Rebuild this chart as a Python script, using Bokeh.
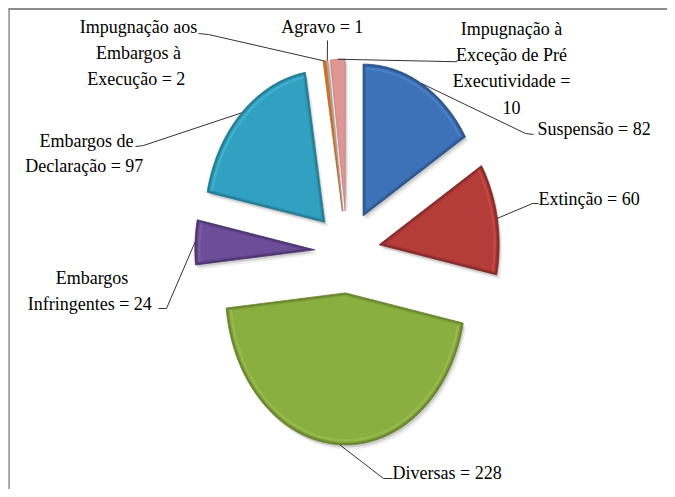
import numpy as np
from bokeh.plotting import figure
from bokeh.models import Range1d, Label
from bokeh.embed import file_html
from bokeh.resources import INLINE

# ---------------- data ----------------
categories = ["Suspensão", "Extinção", "Diversas", "Embargos Infringentes",
              "Embargos de Declaração", "Impugnação aos Embargos à Execução",
              "Agravo", "Impugnação à Exceção de Pré Executividade"]
values = [82, 60, 228, 24, 97, 2, 1, 10]
label_templates = [
    ["Suspensão = {}"],
    ["Extinção =  {}"],
    ["Diversas =  {}"],
    ["Embargos", "Infringentes =  {}"],
    ["Embargos de", "Declaração =  {}"],
    ["Impugnação aos", "Embargos à", "Execução =  {}"],
    ["Agravo =  {}"],
    ["Impugnação à", "Exceção de Pré", "Executividade =", "{}"],
]
main_colors = ["#3D72B8", "#B43C39", "#8BAE40", "#6C4E98", "#32A1C1", "#D9731E", "#C9B2A8", "#DE9593"]
dark_colors = ["#2B5389", "#842A28", "#67842C", "#4C3470", "#237A93", "#A9540F", "#9C857C", "#B56D6B"]
light_colors = ["#5B8FD4", "#D9544F", "#A6C65E", "#8A6BB6", "#55C0DE", "#F0913C", "#E0D0C8", "#F0B4B2"]

# ---------------- layout (pixels, y downwards) ----------------
W, H = 667, 489
cx, cy = 346.7, 251.4
rx, ry = 120.0, 152.0
explode = 0.27

# label anchor: (x, first-line y, line spacing, align)
label_pos = [
    (537, 128, 0, "left"),
    (538, 198, 0, "left"),
    (392, 472, 0, "left"),
    (91.5, 277, 26, "center"),
    (86, 140, 25, "center"),
    (138, 26.7, 25.8, "center"),
    (324, 26, 0, "center"),
    (511, 28, 26.3, "center"),
]
# leader elbow and end points
leader_pts = [
    ((525, 133), (533, 134)),
    ((532, 203), (538, 203)),
    ((383, 478), (392, 478)),
    ((166, 308), (158, 308)),
    ((143, 145), (135, 146)),
    ((208, 34), (198, 33)),
    ((327, 40), (327, 40)),
    ((456.7, 60.6), (456.7, 60.6)),
]

p = figure(width=W, height=H, output_backend="svg", toolbar_location=None,
           x_range=Range1d(0, W), y_range=Range1d(H, 0),
           min_border=0, outline_line_color=None)
p.axis.visible = False
p.grid.visible = False
p.background_fill_color = "white"

total = float(sum(values))
fracs = np.array(values) / total
ends = np.cumsum(fracs) * 2 * np.pi
starts = ends - fracs * 2 * np.pi


def wedge(i):
    a0, a1 = starts[i], ends[i]
    mid = 0.5 * (a0 + a1)
    ax = cx + explode * rx * np.sin(mid)
    ay = cy - explode * ry * np.cos(mid)
    n = max(3, int(np.degrees(a1 - a0) / 1.0) + 2)
    t = np.linspace(a0, a1, n)
    xs = np.concatenate([[ax], ax + rx * np.sin(t)])
    ys = np.concatenate([[ay], ay - ry * np.cos(t)])
    return xs, ys, ax, ay, mid


def inset(xs, ys, k):
    gx, gy = xs.mean(), ys.mean()
    n = len(xs)
    ox, oy = [], []
    for i in range(n):
        p0 = np.array([xs[i - 1], ys[i - 1]])
        p1 = np.array([xs[i], ys[i]])
        p2 = np.array([xs[(i + 1) % n], ys[(i + 1) % n]])
        norms = []
        for a, b in ((p0, p1), (p1, p2)):
            d = b - a
            d = d / (np.hypot(*d) + 1e-9)
            nv = np.array([-d[1], d[0]])
            mpt = 0.5 * (a + b)
            if np.dot(np.array([gx, gy]) - mpt, nv) < 0:
                nv = -nv
            norms.append(nv)
        n1, n2 = norms
        m = (n1 + n2) / (1 + np.dot(n1, n2))
        q = p1 + k * m
        ox.append(q[0]); oy.append(q[1])
    return ox, oy


shadow_x, shadow_y = [], []
shadow2_x, shadow2_y = [], []
geo = []
for i in range(len(values)):
    xs, ys, ax, ay, mid = wedge(i)
    geo.append((xs, ys, ax, ay, mid))
    shadow_x.append(list(xs + 1.5)); shadow_y.append(list(ys + 2.5))
    shadow2_x.append(list(xs + 3.0)); shadow2_y.append(list(ys + 4.5))

p.patches(shadow2_x, shadow2_y, fill_color="black", fill_alpha=0.07, line_color=None)
p.patches(shadow_x, shadow_y, fill_color="black", fill_alpha=0.13, line_color=None)

for i, (xs, ys, ax, ay, mid) in enumerate(geo):
    if values[i] >= 20:
        p.patch(list(xs), list(ys), fill_color=dark_colors[i], line_color=dark_colors[i], line_width=0.8)
        x1, y1 = inset(xs, ys, 1.5)
        p.patch(x1, y1, fill_color=main_colors[i], fill_alpha=0.6, line_color=None)
        x2, y2 = inset(xs, ys, 3.0)
        p.patch(x2, y2, fill_color=main_colors[i], line_color=None)
        # soft highlight along the rounded outer edge
        x3, y3 = inset(xs, ys, 4.5)
        p.line(x3[2:-1], y3[2:-1], line_color=light_colors[i], line_width=2.5, line_alpha=0.45)
    else:
        p.patch(list(xs), list(ys), fill_color=main_colors[i], line_color=dark_colors[i], line_width=0.6)

# leader lines
for i, (xs, ys, ax, ay, mid) in enumerate(geo):
    sx = ax + rx * np.sin(mid)
    sy = ay - ry * np.cos(mid)
    (ex, ey), (fx, fy) = leader_pts[i]
    if i == 7:
        ey = fy = sy + 2.5
    p.line([sx, ex, fx], [sy, ey, fy], line_color="#333333", line_width=1)

# labels
for i, tmpl in enumerate(label_templates):
    x0, y0, dy, align = label_pos[i]
    lines = [s.format(values[i]) if "{}" in s else s for s in tmpl]
    for j, line in enumerate(lines):
        p.add_layout(Label(x=x0, y=y0 + j * dy, text=line, text_align=align,
                           text_baseline="middle", text_color="black",
                           text_font="Liberation Serif", text_font_size="18px"))

# chart frame (top and left edges only, as in the picture)
p.segment(x0=[8, 8.6], y0=[8.6, 8], x1=[W, 8.6], y1=[8.6, H],
          line_color="#8C8C8C", line_width=[2, 1.5])

open("out.html", "w").write(file_html(p, INLINE))
